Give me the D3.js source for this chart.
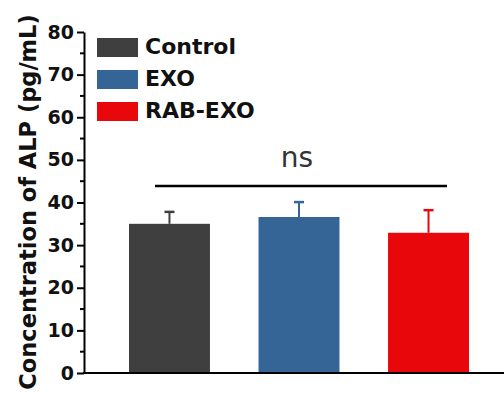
<!DOCTYPE html>
<html>
<head>
<meta charset="utf-8">
<script src="https://cdn.jsdelivr.net/npm/d3@7"></script>
<style>
  body { margin: 0; background: #fff; }
  svg { display: block; font-family: "DejaVu Sans", Arial, sans-serif; }
</style>
</head>
<body>
<svg id="chart" width="504" height="403"></svg>
<script>
const groups = ["Control", "EXO", "RAB-EXO"];
const means = [35.0, 36.6, 32.9];
const errors = [2.8, 3.5, 5.3];
const colors = ["#3f3f3f", "#356597", "#e8080c"];
const yTicks = [0, 10, 20, 30, 40, 50, 60, 70, 80];
const minorTicks = [5, 15, 25, 35, 45, 55, 65, 75];

const svg = d3.select("#chart");

const y = d3.scaleLinear().domain([0, 80]).range([373, 32]);
const x = d3.scaleBand().domain(groups).range([129, 469]).paddingInner(0.375).paddingOuter(0);

// bars
svg.selectAll(".bar")
    .data(groups)
    .enter()
    .append("rect")
    .attr("class", "bar")
    .attr("x", d => x(d))
    .attr("width", x.bandwidth())
    .attr("y", (d, i) => y(means[i]))
    .attr("height", (d, i) => y(0) - y(means[i]))
    .style("fill", (d, i) => colors[i]);

// error bars (upper only)
const err = svg.append("g");
groups.forEach((g, i) => {
    const cx = x(g) + x.bandwidth() / 2;
    err.append("line")
        .attr("x1", cx).attr("x2", cx)
        .attr("y1", y(means[i])).attr("y2", y(means[i] + errors[i]))
        .style("stroke", colors[i]).style("stroke-width", 2);
    err.append("line")
        .attr("x1", cx - 5).attr("x2", cx + 5)
        .attr("y1", y(means[i] + errors[i])).attr("y2", y(means[i] + errors[i]))
        .style("stroke", colors[i]).style("stroke-width", 2.5);
});

// y axis
const yAxis = svg.append("g")
    .attr("transform", "translate(84,0)")
    .call(d3.axisLeft(y).tickValues(yTicks).tickSize(7).tickPadding(3).tickSizeOuter(0));
yAxis.attr("font-family", null);
yAxis.select(".domain").style("stroke", "#000").style("stroke-width", 2);
yAxis.selectAll(".tick line").style("stroke", "#000").style("stroke-width", 2);
yAxis.selectAll(".tick text")
    .style("font-size", "19px")
    .style("font-weight", "bold")
    .style("fill", "#111");

yAxis.selectAll(".minor")
    .data(minorTicks)
    .enter()
    .append("line")
    .attr("class", "minor")
    .attr("x1", -4).attr("x2", 0)
    .attr("y1", d => y(d)).attr("y2", d => y(d))
    .style("stroke", "#000").style("stroke-width", 2);

// x axis line
svg.append("line")
    .attr("x1", 83).attr("x2", 504)
    .attr("y1", y(0)).attr("y2", y(0))
    .style("stroke", "#000").style("stroke-width", 2);

// y label
svg.append("text")
    .attr("transform", "translate(36,202) rotate(-90)")
    .attr("text-anchor", "middle")
    .style("font-size", "22.5px")
    .style("font-weight", "bold")
    .style("fill", "#111")
    .text("Concentration of ALP (pg/mL)");

// legend
const legend = svg.append("g").attr("transform", "translate(97,38)");
groups.forEach((g, i) => {
    legend.append("rect")
        .attr("x", 0).attr("y", i * 32)
        .attr("width", 41).attr("height", 19)
        .style("fill", colors[i]);
    legend.append("text")
        .attr("x", 48).attr("y", i * 32 + 16)
        .style("font-size", "22px")
        .style("font-weight", "bold")
        .style("fill", "#111")
        .text(g);
});

// significance bar
svg.append("line")
    .attr("x1", 155).attr("x2", 447)
    .attr("y1", 186).attr("y2", 186)
    .style("stroke", "#000").style("stroke-width", 2.5);
svg.append("text")
    .attr("x", 297).attr("y", 167)
    .attr("text-anchor", "middle")
    .style("font-size", "28px")
    .style("fill", "#333")
    .text("ns");
</script>
</body>
</html>
